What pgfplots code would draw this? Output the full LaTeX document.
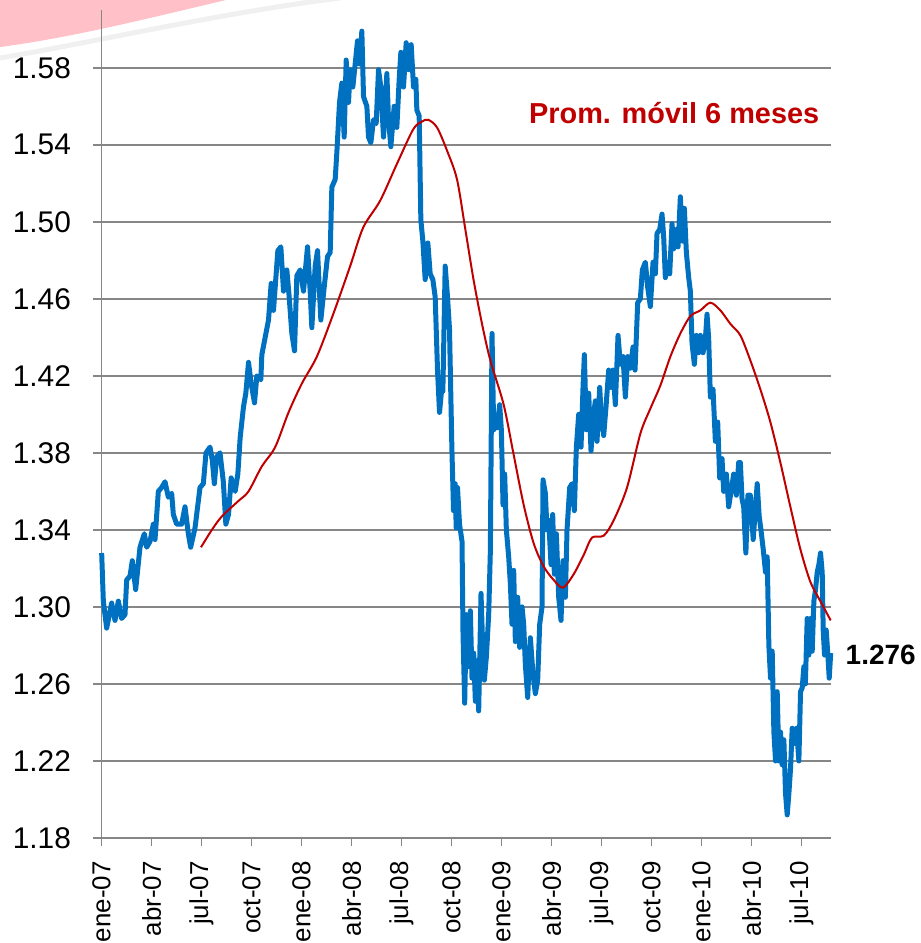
\documentclass[border=0pt]{standalone}
\usepackage{pgfplots}
\pgfplotsset{compat=1.18}
\usepackage{fontspec}
\setmainfont{Liberation Sans}

\definecolor{serieblue}{RGB}{0,112,192}
\definecolor{seriered}{RGB}{192,0,0}
\definecolor{axisgray}{RGB}{134,134,134}
\definecolor{swoosh}{RGB}{255,192,200}
\definecolor{streak}{RGB}{240,240,240}

\begin{document}
\begin{tikzpicture}
  % decoracion rosa arriba a la izquierda
  \fill[swoosh] (0bp,943bp) -- (226bp,943bp)
    .. controls (150bp,925bp) and (70bp,905bp) .. (0bp,896bp) -- cycle;
  \draw[streak, line width=5bp] (0bp,885bp)
    .. controls (90bp,900bp) and (220bp,930bp) .. (340bp,945bp);

  \begin{axis}[
      at={(101.5bp,105bp)}, anchor=south west,
      scale only axis,
      width=729.2bp, height=828bp,
      xmin=0, xmax=43.75,
      ymin=1.18, ymax=1.61,
      axis lines*=left,
      axis line style={axisgray, line width=1.5bp},
      tick style={axisgray, line width=1.5bp},
      tick align=outside,
      major tick length=8bp,
      ymajorgrids,
      grid style={axisgray, line width=1.5bp},
      xtick={0,3,6,9,12,15,18,21,24,27,30,33,36,39,42},
      xticklabels={ene-07,abr-07,jul-07,oct-07,ene-08,abr-08,jul-08,oct-08,
                   ene-09,abr-09,jul-09,oct-09,ene-10,abr-10,jul-10},
      ytick={1.18,1.22,1.26,1.30,1.34,1.38,1.42,1.46,1.50,1.54,1.58},
      /pgf/number format/assume math mode=true,
      yticklabel style={/pgf/number format/fixed,
                        /pgf/number format/fixed zerofill,
                        /pgf/number format/precision=2,
                        font=\fontsize{30}{30}\selectfont, anchor=east, xshift=-19bp},
      xticklabel style={rotate=90, anchor=east, font=\fontsize{26}{26}\selectfont,
                        xshift=-12bp},
      clip=false,
    ]

    % tipo de cambio diario
    \addplot[serieblue, line width=5bp, line join=round, no marks] coordinates {
      (0.01,1.328) (0.11,1.303) (0.31,1.289) (0.61,1.302) (0.81,1.293) (1.01,1.303)
      (1.21,1.294) (1.41,1.296) (1.51,1.314) (1.71,1.316) (1.85,1.324) (2.05,1.309)
      (2.31,1.331) (2.57,1.338) (2.71,1.331) (2.91,1.334) (3.11,1.343) (3.21,1.335)
      (3.41,1.360) (3.61,1.362) (3.81,1.365) (4.01,1.357) (4.21,1.359) (4.31,1.348)
      (4.51,1.343) (4.81,1.343) (5.01,1.352) (5.21,1.338) (5.35,1.331) (5.61,1.341)
      (5.91,1.362) (6.11,1.364) (6.27,1.380) (6.51,1.383) (6.65,1.376) (6.77,1.364)
      (6.91,1.378) (7.11,1.380) (7.31,1.365) (7.46,1.343) (7.62,1.348) (7.78,1.367)
      (8.02,1.360) (8.18,1.369) (8.32,1.388) (8.52,1.404) (8.66,1.411) (8.82,1.427)
      (8.98,1.416) (9.18,1.406) (9.32,1.420) (9.56,1.418) (9.62,1.431) (9.82,1.440)
      (10.02,1.449) (10.18,1.468) (10.32,1.454) (10.42,1.466) (10.58,1.485) (10.76,1.487)
      (10.92,1.464) (11.12,1.475) (11.26,1.461) (11.42,1.442) (11.58,1.433) (11.72,1.472)
      (11.92,1.475) (12.12,1.464) (12.36,1.487) (12.52,1.464) (12.62,1.445) (12.82,1.477)
      (12.96,1.485) (13.16,1.449) (13.36,1.466) (13.56,1.482) (13.72,1.484) (13.82,1.518)
      (14.02,1.522) (14.12,1.536) (14.28,1.562) (14.42,1.572) (14.56,1.544) (14.68,1.584)
      (14.82,1.562) (14.92,1.579) (15.08,1.570) (15.22,1.582) (15.36,1.594) (15.48,1.582)
      (15.62,1.599) (15.72,1.565) (15.92,1.560) (16.02,1.544) (16.16,1.541) (16.32,1.553)
      (16.48,1.551) (16.62,1.579) (16.76,1.570) (16.92,1.544) (17.12,1.577) (17.22,1.553)
      (17.36,1.539) (17.56,1.560) (17.72,1.549) (17.86,1.574) (17.96,1.588) (18.12,1.570)
      (18.28,1.593) (18.42,1.579) (18.58,1.592) (18.72,1.570) (18.86,1.574) (18.92,1.558)
      (19.06,1.555) (19.16,1.501) (19.28,1.490) (19.42,1.470) (19.58,1.489) (19.72,1.473)
      (19.88,1.470) (20.02,1.461) (20.16,1.423) (20.28,1.401) (20.42,1.414) (20.48,1.412)
      (20.62,1.477) (20.76,1.461) (20.88,1.444) (21.02,1.383) (21.12,1.350) (21.22,1.364)
      (21.28,1.341) (21.36,1.362) (21.48,1.343) (21.63,1.334) (21.69,1.286) (21.79,1.250)
      (21.89,1.296) (22.03,1.269) (22.13,1.298) (22.23,1.263) (22.33,1.276) (22.43,1.251)
      (22.53,1.272) (22.63,1.246) (22.77,1.307) (22.89,1.274) (22.97,1.262) (23.09,1.274)
      (23.23,1.296) (23.33,1.329) (23.43,1.442) (23.53,1.392) (23.63,1.398) (23.73,1.393)
      (23.89,1.405) (23.99,1.392) (24.09,1.353) (24.19,1.369) (24.29,1.340) (24.43,1.326)
      (24.53,1.312) (24.63,1.291) (24.73,1.319) (24.83,1.282) (24.97,1.305) (25.09,1.279)
      (25.23,1.300) (25.33,1.291) (25.43,1.270) (25.57,1.253) (25.73,1.284) (25.89,1.265)
      (26.03,1.255) (26.17,1.262) (26.29,1.291) (26.43,1.300) (26.49,1.366) (26.63,1.359)
      (26.73,1.340) (26.83,1.345) (26.97,1.322) (27.07,1.348) (27.17,1.317) (27.29,1.338)
      (27.43,1.305) (27.57,1.293) (27.69,1.324) (27.83,1.305) (27.93,1.340) (28.09,1.362)
      (28.23,1.364) (28.37,1.350) (28.49,1.383) (28.63,1.400) (28.77,1.383) (28.89,1.414)
      (28.97,1.431) (29.09,1.392) (29.23,1.411) (29.37,1.381) (29.49,1.398) (29.63,1.407)
      (29.73,1.386) (29.89,1.414) (29.99,1.398) (30.13,1.389) (30.27,1.404) (30.43,1.423)
      (30.57,1.414) (30.69,1.423) (30.83,1.405) (30.99,1.441) (31.13,1.426) (31.29,1.430)
      (31.43,1.409) (31.57,1.430) (31.73,1.424) (31.89,1.435) (32.01,1.423) (32.17,1.458)
      (32.33,1.460) (32.45,1.475) (32.63,1.479) (32.77,1.466) (32.93,1.456) (33.09,1.479)
      (33.23,1.473) (33.33,1.494) (33.49,1.496) (33.63,1.504) (33.73,1.492) (33.83,1.471)
      (33.97,1.479) (34.09,1.473) (34.23,1.499) (34.33,1.486) (34.49,1.496) (34.59,1.487)
      (34.73,1.513) (34.85,1.490) (34.97,1.507) (35.09,1.484) (35.23,1.471) (35.33,1.464)
      (35.43,1.437) (35.57,1.426) (35.69,1.441) (35.83,1.432) (35.93,1.441) (36.09,1.432)
      (36.23,1.439) (36.33,1.452) (36.43,1.439) (36.53,1.409) (36.69,1.413) (36.83,1.386)
      (36.97,1.396) (37.09,1.367) (37.23,1.377) (37.33,1.360) (37.49,1.369) (37.63,1.352)
      (37.77,1.360) (37.93,1.369) (38.09,1.358) (38.23,1.375) (38.33,1.375) (38.43,1.356)
      (38.53,1.352) (38.66,1.328) (38.78,1.358) (38.93,1.358) (39.10,1.335) (39.24,1.352)
      (39.34,1.364) (39.46,1.347) (39.58,1.339) (39.70,1.330) (39.84,1.318) (39.94,1.326)
      (40.04,1.280) (40.14,1.263) (40.24,1.277) (40.34,1.235) (40.44,1.220) (40.54,1.256)
      (40.64,1.220) (40.74,1.235) (40.84,1.218) (40.94,1.231) (41.04,1.203) (41.14,1.192)
      (41.24,1.203) (41.34,1.216) (41.44,1.237) (41.54,1.229) (41.70,1.237) (41.84,1.220)
      (41.94,1.256) (42.04,1.258) (42.14,1.269) (42.23,1.260) (42.34,1.294) (42.44,1.275)
      (42.54,1.294) (42.64,1.277) (42.74,1.303) (42.84,1.309) (42.94,1.318) (43.04,1.322)
      (43.14,1.328) (43.24,1.318) (43.30,1.288) (43.38,1.275) (43.48,1.288) (43.58,1.275)
      (43.66,1.263) (43.75,1.276)
    };

    % promedio movil 6 meses
    \addplot[seriered, line width=2bp, smooth, tension=0.5, no marks] coordinates {
      (5.97,1.331) (6.62,1.340) (7.22,1.347) (8.21,1.355) (8.82,1.360) (9.62,1.373)
      (10.42,1.383) (11.22,1.401) (12.02,1.416) (12.92,1.430) (13.90,1.452) (14.92,1.477)
      (15.70,1.497) (16.72,1.511) (17.72,1.530) (18.70,1.548) (19.22,1.552) (19.60,1.553)
      (20.13,1.549) (20.73,1.537) (21.33,1.522) (21.83,1.496) (22.32,1.470) (22.83,1.447)
      (23.33,1.428) (24.13,1.405) (24.73,1.379) (25.33,1.353) (25.93,1.333) (26.53,1.321)
      (27.13,1.314) (27.69,1.310) (28.33,1.317) (28.93,1.327) (29.43,1.336) (30.13,1.337)
      (30.73,1.345) (31.53,1.362) (32.33,1.390) (32.93,1.403) (33.53,1.415) (34.13,1.430)
      (34.73,1.442) (35.33,1.451) (35.93,1.454) (36.53,1.458) (37.13,1.454) (37.73,1.447)
      (38.33,1.441) (38.93,1.428) (39.53,1.413) (40.13,1.396) (40.73,1.375) (41.33,1.352)
      (41.93,1.330) (42.53,1.313) (43.13,1.303) (43.75,1.293)
    };

    \node[seriered, font=\bfseries\fontsize{29}{29}\selectfont, inner sep=0pt]
      at (axis cs:34.36,1.5563) {Prom. móvil 6 meses};
    \node[black, font=\bfseries\fontsize{28}{28}\selectfont, anchor=west, inner sep=0pt]
      at (axis cs:44.64,1.275) {1.276};
  \end{axis}

  \pgfresetboundingbox
  \path[use as bounding box] (0bp,0bp) rectangle (921bp,943bp);
\end{tikzpicture}
\end{document}
